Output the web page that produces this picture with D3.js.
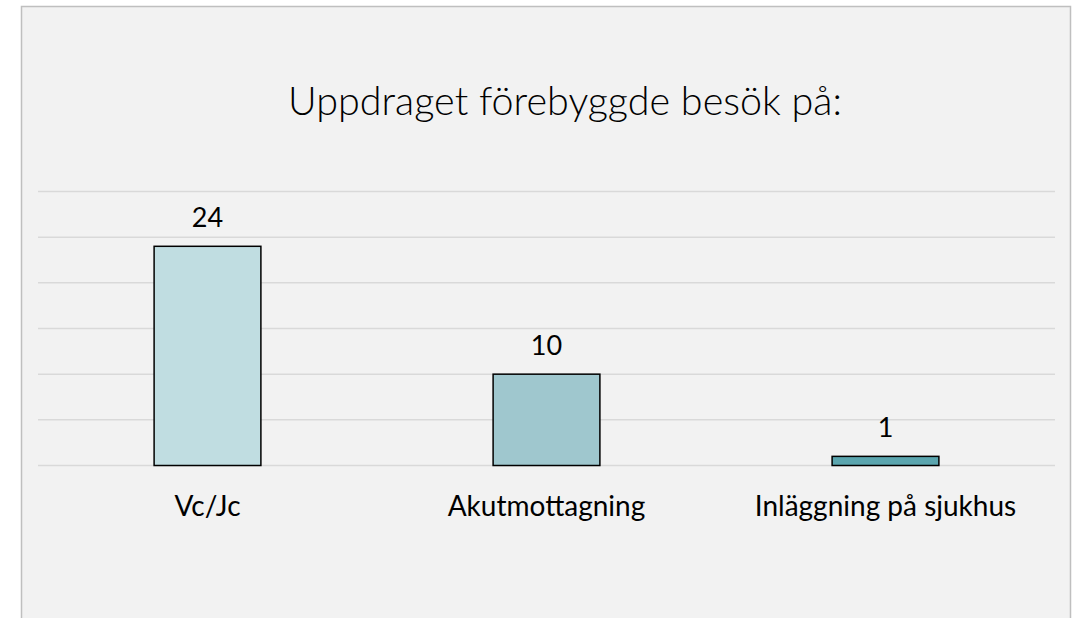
<!DOCTYPE html>
<html><head><meta charset="utf-8">
<script src="https://cdn.jsdelivr.net/npm/d3@7"></script>
<style>body{margin:0;background:#fff;} svg{display:block;}</style>
</head><body>
<svg id="c" width="1074" height="618"></svg>
<script>
const categories = ["Vc/Jc", "Akutmottagning", "Inläggning på sjukhus"];
const values = [24, 10, 1];
const barColors = ["#c0dde1", "#9fc7ce", "#5ba5ae"];
const gridTicks = [0, 5, 10, 15, 20, 25, 30];
const title = "Uppdraget förebyggde besök på:";

const FONT = "Lato, 'Open Sans', sans-serif";
const svg = d3.select("#c");
svg.append("rect").attr("x", 21.5).attr("y", 6.5).attr("width", 1049).attr("height", 640)
  .attr("fill", "#f2f2f2").attr("stroke", "#bfbfbf").attr("stroke-width", 1.5);

const x = d3.scaleBand().domain(categories).range([38, 1055]).paddingInner(0.685).paddingOuter(0.3425);
const y = d3.scaleLinear().domain([0, 30]).range([465.5, 191.5]);

const g = svg.append("g");
g.selectAll("line.grid").data(gridTicks).join("line")
  .attr("x1", 38).attr("x2", 1055)
  .attr("y1", d => y(d)).attr("y2", d => y(d))
  .attr("stroke", "#d9d9d9").attr("stroke-width", 1.5);

g.selectAll("rect.bar").data(values).join("rect")
  .attr("x", (d, i) => x(categories[i]))
  .attr("y", d => y(d))
  .attr("width", x.bandwidth())
  .attr("height", d => y(0) - y(d))
  .attr("fill", (d, i) => barColors[i])
  .attr("stroke", "#000").attr("stroke-width", 1.5);

g.selectAll("text.val").data(values).join("text")
  .attr("x", (d, i) => x(categories[i]) + x.bandwidth() / 2)
  .attr("y", d => y(d) - 19.5)
  .attr("text-anchor", "middle")
  .attr("font-family", FONT).attr("font-size", 27).attr("fill", "#000")
  .text(d => d);

const xAxis = d3.axisBottom(x).tickSize(0).tickPadding(0);
const ax = svg.append("g").attr("transform", `translate(0,${y(0)})`).call(xAxis);
ax.select(".domain").remove();
ax.selectAll("text").attr("dy", 0).attr("y", 50.5)
  .attr("font-family", FONT).attr("font-size", 28).attr("fill", "#000");

svg.append("text").attr("x", 565).attr("y", 115).attr("text-anchor", "middle")
  .attr("font-family", FONT).attr("font-weight", 300).attr("font-size", 39.5).attr("fill", "#000")
  .text(title);
</script>
</body></html>
